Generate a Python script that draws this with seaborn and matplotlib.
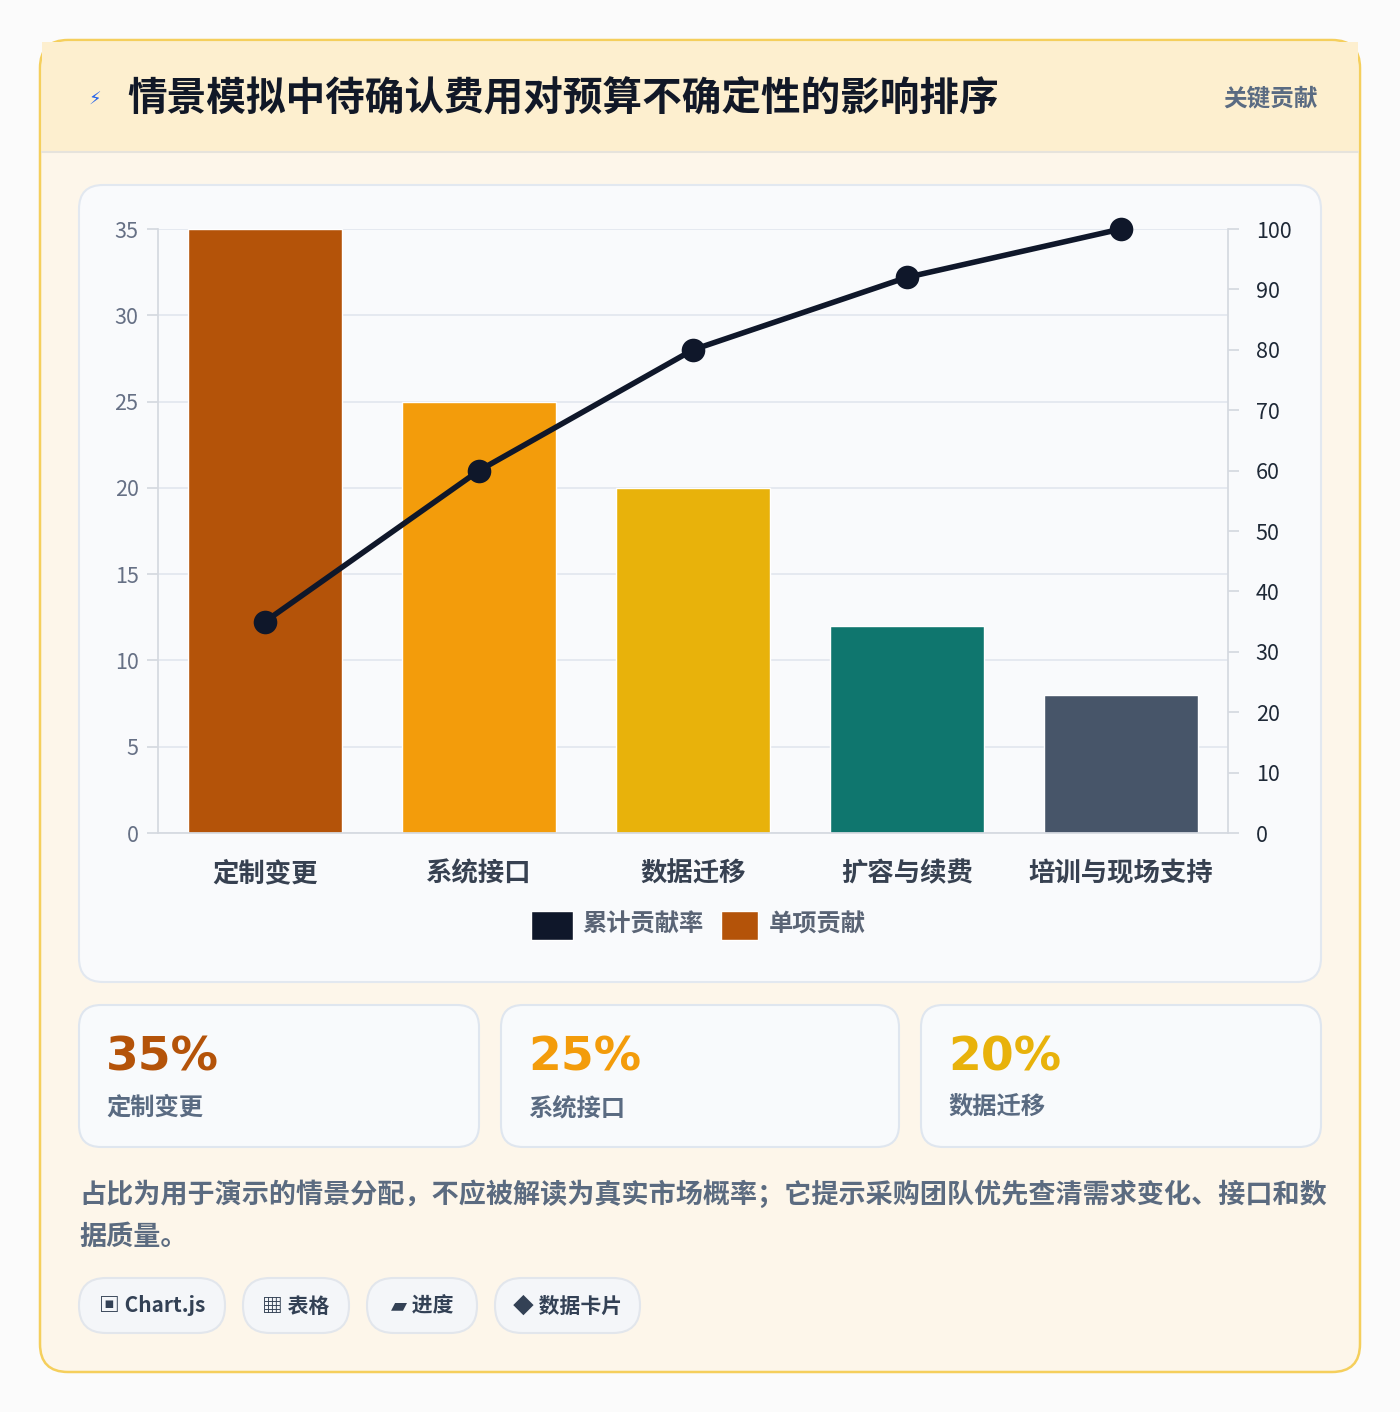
import matplotlib
matplotlib.use("Agg")
import matplotlib.pyplot as plt
import seaborn as sns
import pandas as pd
from matplotlib.patches import FancyBboxPatch

categories = ["定制变更", "系统接口", "数据迁移", "扩容与续费", "培训与现场支持"]
values = [35, 25, 20, 12, 8]
cumulative = [35, 60, 80, 92, 100]
colors = ["#b45309", "#f39c0b", "#e8b20b", "#0f766e", "#475569"]
kpi_values = ["35%", "25%", "20%"]
kpi_labels = ["定制变更", "系统接口", "数据迁移"]
tags = ["▣ Chart.js", "▦ 表格", "▰ 进度", "◆ 数据卡片"]

sns.set_theme(style="white")
plt.rcParams['font.family'] = ['Noto Sans CJK SC', 'DejaVu Sans']

W, H = 1400, 1412
fig = plt.figure(figsize=(14, 14.12), dpi=100)
fig.patch.set_facecolor("#fbfbfb")
bg = fig.add_axes([0, 0, 1, 1]); bg.set_xlim(0, W); bg.set_ylim(H, 0); bg.axis("off")

def rbox(x0, y0, x1, y1, fc, ec, r=20, lw=1.5, z=1):
    bg.add_patch(FancyBboxPatch((x0 + r, y0 + r), x1 - x0 - 2*r, y1 - y0 - 2*r,
                                boxstyle=f"round,pad={r}", fc=fc, ec=ec, lw=lw, zorder=z))

rbox(40, 40, 1360, 1372, "#fdf6ea", "#f5cf5c", r=28, lw=1.8)
bg.add_patch(plt.Rectangle((42, 42), 1316, 110, fc="#fdefcf", ec="none", zorder=2))
bg.plot([42, 1358], [152, 152], color="#e6e3dc", lw=1.5, zorder=3)
bg.text(95, 100, "⚡", color="#2563eb", fontsize=13, ha="center", va="center", zorder=4, family=['DejaVu Sans'])
bg.text(127, 98, "情景模拟中待确认费用对预算不确定性的影响排序", fontsize=28.5, fontweight="heavy",
        color="#111827", va="center", zorder=4)
bg.text(1318, 98, "关键贡献", fontsize=17, fontweight="bold", color="#5a6b82", ha="right", va="center", zorder=4)

rbox(79, 185, 1321, 982, "#f9fafc", "#e2e8f0", r=24)

ax = fig.add_axes([158/W, 1 - 833/H, (1228-158)/W, (833-229)/H])
ax.set_facecolor("none")
df = pd.DataFrame({"cat": categories, "val": values})
sns.barplot(data=df, x="cat", y="val", hue="cat", palette=colors, width=0.72, ax=ax, legend=False, saturation=1)
ax.set_ylim(0, 35); ax.set_yticks(range(0, 36, 5))
ax.grid(axis="y", color="#e2e6ee", lw=1.2); ax.set_axisbelow(True)
ax.set_xlabel(""); ax.set_ylabel("")
for s in ["top", "right"]: ax.spines[s].set_visible(False)
for s in ["left", "bottom"]: ax.spines[s].set_color("#d5d9e0")
ax.tick_params(axis="y", colors="#667085", labelsize=15.5, length=8, color="#d5d9e0", pad=6)
ax.tick_params(axis="x", labelsize=19, colors="#374151", length=0, pad=20)
for t in ax.get_xticklabels(): t.set_fontweight("bold")
ax2 = ax.twinx()
sns.lineplot(x=list(range(5)), y=cumulative, ax=ax2, color="#0f172a", lw=4, marker="o",
             markersize=17, markeredgewidth=0, clip_on=False, zorder=5)
ax2.set_ylim(0, 100); ax2.set_yticks(range(0, 101, 10))
for s in ["top", "left", "bottom"]: ax2.spines[s].set_visible(False)
ax2.spines["right"].set_color("#d5d9e0")
ax2.tick_params(axis="y", colors="#1f2937", labelsize=15.5, length=8, color="#d5d9e0", pad=12)
ax2.set_xlim(-0.5, 4.5); ax.set_xlim(-0.5, 4.5)

# legend
bg.add_patch(plt.Rectangle((531, 911), 42, 29, fc="#0f172a", zorder=4))
bg.text(582, 925, "累计贡献率", fontsize=17.5, fontweight="bold", color="#5a6475", va="center", zorder=4)
bg.add_patch(plt.Rectangle((721, 911), 37, 29, fc="#b45309", zorder=4))
bg.text(769, 925, "单项贡献", fontsize=17.5, fontweight="bold", color="#5a6475", va="center", zorder=4)

for i, (x0, x1) in enumerate([(79, 479), (501, 899), (921, 1321)]):
    rbox(x0, 1005, x1, 1147, "#f8fafc", "#dfe6ef", r=22)
    bg.text(x0 + 27, 1058, kpi_values[i], fontsize=34, fontweight="heavy", color=colors[i], va="center",
            zorder=4, family=['DejaVu Sans'])
    bg.text(x0 + 27, 1108, kpi_labels[i], fontsize=17.5, fontweight="bold", color="#5a6b82", va="center", zorder=4)

bg.text(79, 1195, "占比为用于演示的情景分配，不应被解读为真实市场概率；它提示采购团队优先查清需求变化、接口和数",
        fontsize=19.5, fontweight="bold", color="#5b6b80", va="center", zorder=4)
bg.text(79, 1237, "据质量。", fontsize=19.5, fontweight="bold", color="#5b6b80", va="center", zorder=4)

for (x0, x1), t in zip([(79, 225), (243, 349), (367, 477), (495, 640)], tags):
    rbox(x0, 1278, x1, 1333, "#f4f6f9", "#e2e6ec", r=27)
    bg.text((x0 + x1)/2, 1306, t, fontsize=15, fontweight="bold", color="#334155", ha="center", va="center",
            zorder=4, family=['Noto Sans CJK SC', 'DejaVu Sans'])

fig.savefig("out.png", dpi=100, facecolor=fig.get_facecolor())
